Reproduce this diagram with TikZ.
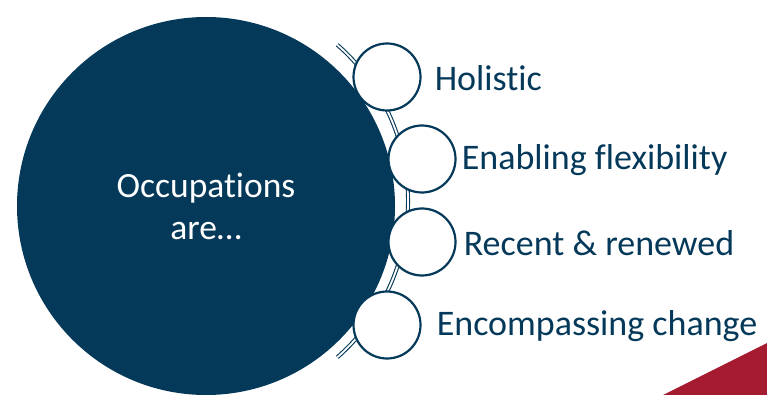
\documentclass[tikz,border=0pt]{standalone}
\usepackage{fontspec}
\setmainfont{Carlito}[Ligatures=NoCommon]
\definecolor{navy}{RGB}{5,57,90}
\definecolor{crimson}{RGB}{165,28,48}
\begin{document}
\begin{tikzpicture}[
        x=1pt, y=-1pt,
        big/.style={circle, fill=navy, minimum size=378pt, inner sep=0pt,
          align=center, text=white, font=\fontsize{35.5}{42}\selectfont},
        bubble/.style={circle, draw=navy, line width=2.2pt, fill=white,
          minimum size=67pt, inner sep=0pt},
        item/.style={anchor=west, text=navy, inner sep=0pt,
          font=\fontsize{36}{42}\selectfont},
        link/.style={draw=navy, line width=1.1pt, double=white, double distance=1.8pt}
      ]
      \useasboundingbox (0,0) rectangle (767,395);
      % spine behind the bubbles
      \coordinate (spine) at (337.3,44.8);
      \draw[link] (spine) arc[start angle=-48.7, end angle=48.7, radius=208];
      \node[big] (occ) at (206,206) {Occupations\\are\dots};
      \node[bubble] (c1) at (387,77) {};
      \node[bubble] (c2) at (422,159) {};
      \node[bubble] (c3) at (422,242) {};
      \node[bubble] (c4) at (387,325) {};
      \node[item] (t1) at ([xshift=13pt,yshift=-1pt]c1.east) {Holistic};
      \node[item] (t2) at ([xshift=5pt,yshift=-1pt]c2.east) {Enabling flexibility};
      \node[item] (t3) at ([xshift=7pt,yshift=-1pt]c3.east) {Recent \& renewed};
      \node[item] (t4) at ([xshift=15pt,yshift=-1pt]c4.east) {Encompassing change};
      % corner mark
      \fill[crimson] (663,395) -- (767,343) -- (767,395) -- cycle;
\end{tikzpicture}
\end{document}
